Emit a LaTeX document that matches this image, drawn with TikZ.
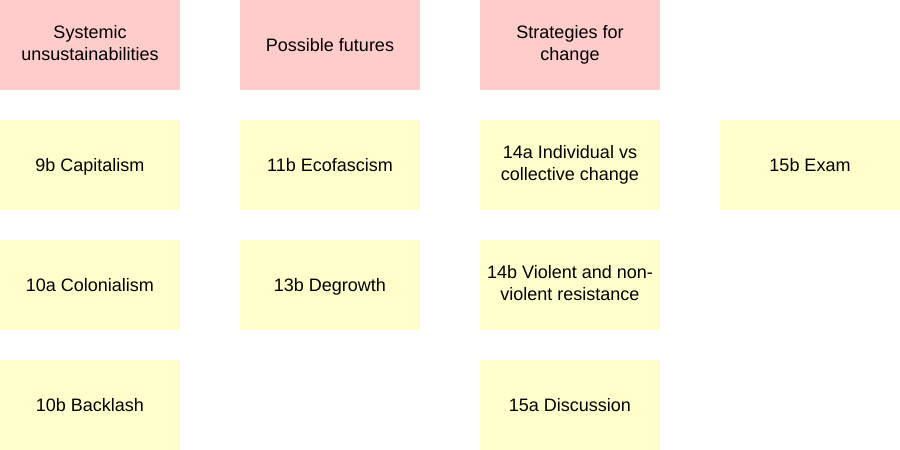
\documentclass[tikz,border=0pt]{standalone}
\usepackage{fontspec}
\setmainfont{Liberation Sans}
\definecolor{headpink}{HTML}{FFCCCC}
\definecolor{notepale}{HTML}{FFFFCC}
\newcommand{\linestrut}{\rule[-5pt]{0pt}{22.4pt}}
\newcommand{\tallstrut}{\rule[-5pt]{0pt}{28.4pt}}
\begin{document}
\begin{tikzpicture}[x=1pt,y=-1pt,
    card/.style={minimum width=180pt,minimum height=90pt,inner sep=0pt,
      align=center,font=\fontsize{18}{22}\selectfont,
      execute at begin node=\linestrut,execute at end node=\linestrut},
    head/.style={card,fill=headpink},
    topic/.style={card,fill=notepale},
    twolines/.style={execute at begin node=\tallstrut}]

        \useasboundingbox (0,0) rectangle (900,450);

        % column headings
        \node[head,twolines] (sys)   at (90,45)  {Systemic\\unsustainabilities};
        \node[head]          (fut)   at (330,45) {Possible futures};
        \node[head,twolines] (strat) at (570,45) {Strategies for\\change};

        % lecture topics
        \node[topic] (9b)  at (90,165)  {9b Capitalism};
        \node[topic] (10a) at (90,285)  {10a Colonialism};
        \node[topic] (10b) at (90,405)  {10b Backlash};
        \node[topic] (11b) at (330,165) {11b Ecofascism};
        \node[topic] (13b) at (330,285) {13b Degrowth};
        \node[topic,twolines] (14a) at (570,165) {14a Individual vs\\collective change};
        \node[topic,twolines] (14b) at (570,285) {14b Violent and non-\\violent resistance};
        \node[topic] (15a) at (570,405) {15a Discussion};
        \node[topic] (15b) at (810,165) {15b Exam};

      \end{tikzpicture}
\end{document}
